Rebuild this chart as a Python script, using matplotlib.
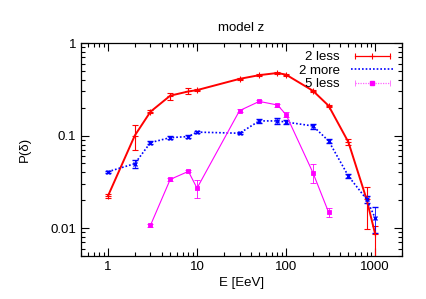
import matplotlib
matplotlib.use("Agg")
import matplotlib.pyplot as plt
from matplotlib.lines import Line2D
from matplotlib.legend_handler import HandlerLine2D, HandlerTuple
from matplotlib.ticker import LogLocator, NullFormatter, FixedLocator, FixedFormatter

plt.rcParams['font.family'] = ['Liberation Sans', 'DejaVu Sans']

# 2 less
e_2less = [1, 2, 3, 5, 8, 10, 30, 50, 80, 100, 200, 300, 500, 800, 1000]
p_2less = [0.0222, 0.10, 0.181, 0.27, 0.30, 0.31, 0.41, 0.45, 0.475, 0.455,
           0.305, 0.21, 0.085, 0.0205, 0.0086]
lo_2less = [0.001, 0.03, 0.006, 0.025, 0.02, 0.008, 0.01, 0.01, 0.015, 0.01,
            0.008, 0.006, 0.006, 0.0107, 0.0085]
hi_2less = [0.001, 0.03, 0.006, 0.02, 0.03, 0.008, 0.01, 0.01, 0.015, 0.01,
            0.008, 0.006, 0.006, 0.0075, 0.0019]

# 2 more
e_2more = [1, 2, 3, 5, 8, 10, 30, 50, 80, 100, 200, 300, 500, 800, 1000]
p_2more = [0.0407, 0.0497, 0.084, 0.095, 0.0976, 0.109, 0.106, 0.144, 0.144,
           0.14, 0.127, 0.0875, 0.0365, 0.0205, 0.0128]
err_2more = [0.001, 0.005, 0.003, 0.003, 0.003, 0.003, 0.003, 0.006, 0.01,
             0.006, 0.008, 0.004, 0.002, 0.002, 0.004]

# 5 less
e_5less = [3, 5, 8, 10, 30, 50, 80, 100, 200, 300]
p_5less = [0.0107, 0.0336, 0.041, 0.027, 0.186, 0.234, 0.214, 0.168, 0.0397, 0.0148]
err_5less = [0.0005, 0.001, 0.001, 0.006, 0.006, 0.006, 0.008, 0.01, 0.009, 0.0015]

red, blue, magenta = '#ff0000', '#0000ff', '#ff00ff'

fig = plt.figure(figsize=(4.27, 2.99), dpi=100)
ax = fig.add_axes([0.19, 0.144, 0.7515, 0.712])

ax.errorbar(e_2less, p_2less, yerr=[lo_2less, hi_2less], color=red, lw=1.4,
            marker='+', ms=4, mew=0.8, elinewidth=0.8, capsize=2)
ax.errorbar(e_2more, p_2more, yerr=err_2more, color=blue, lw=1.2, ls=(0, (1, 1.2)),
            marker='x', ms=3, mew=1.0, elinewidth=0.6, capsize=2)
ax.errorbar(e_5less, p_5less, yerr=err_5less, color=magenta, lw=0.8,
            marker='s', ms=2.5, mew=0.6, elinewidth=0.6, capsize=2)

ax.set_xscale('log')
ax.set_yscale('log')
ax.set_xlim(0.5, 2000)
ax.set_ylim(0.005, 1)

ax.xaxis.set_major_locator(FixedLocator([1, 10, 100, 1000]))
ax.xaxis.set_major_formatter(FixedFormatter(['1', '10', '100', '1000']))
ax.yaxis.set_major_locator(FixedLocator([0.01, 0.1, 1]))
ax.yaxis.set_major_formatter(FixedFormatter(['0.01', '0.1', '1']))
for axis in (ax.xaxis, ax.yaxis):
    axis.set_minor_locator(LogLocator(base=10, subs=range(2, 10), numticks=20))
    axis.set_minor_formatter(NullFormatter())

ax.tick_params(which='both', direction='in', top=True, right=True, labelsize=9.5,
               width=0.8)
ax.tick_params(which='major', length=6)
ax.tick_params(which='minor', length=3)
for s in ax.spines.values():
    s.set_linewidth(0.9)

ax.set_title('model z', fontsize=9.5, pad=9)
ax.set_xlabel('E [EeV]', fontsize=9.5, labelpad=3)
ax.set_ylabel('P(δ)', fontsize=9.5, labelpad=14)

# gnuplot-style legend samples: horizontal line with end caps
red_caps = Line2D([], [], color=red, lw=0.9, marker='|', ms=5, mew=0.8)
red_mid = Line2D([], [], color=red, lw=0, marker='+', ms=5, mew=0.8)
blue_line = Line2D([], [], color=blue, lw=1.2, ls=(0, (1, 1.2)))
mag_caps = Line2D([], [], color='#ff66ff', lw=0.9, ls=(0, (1, 1)), marker='|', ms=5, mew=0.6)
mag_mid = Line2D([], [], color=magenta, lw=0, marker='s', ms=3)

hmap = {red_caps: HandlerLine2D(numpoints=2), red_mid: HandlerLine2D(numpoints=1),
        mag_caps: HandlerLine2D(numpoints=2), mag_mid: HandlerLine2D(numpoints=1),
        tuple: HandlerTuple(ndivide=1)}
ax.legend([(red_caps, red_mid), blue_line, (mag_caps, mag_mid)],
          ['2 less', '2 more', '5 less'], handler_map=hmap,
          loc='upper right', fontsize=9.5, frameon=False, markerfirst=False,
          handlelength=3.3, handletextpad=0.8, labelspacing=0.1,
          borderaxespad=0.2)

fig.savefig('out.png', dpi=100)
